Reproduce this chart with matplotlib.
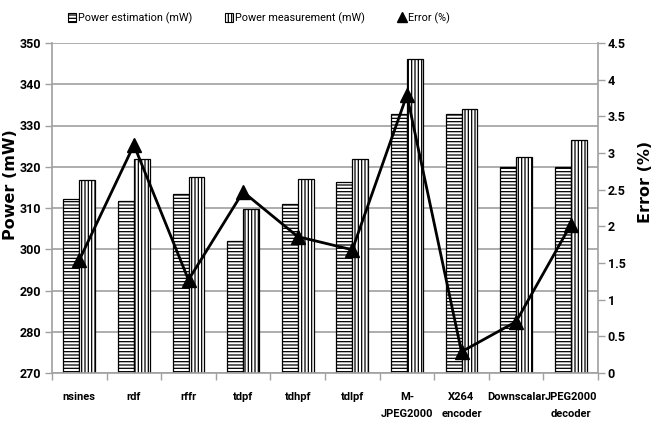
import matplotlib
matplotlib.use("Agg")
import matplotlib.pyplot as plt
import numpy as np
from matplotlib.lines import Line2D
from matplotlib.patches import Patch

categories = ["nsines", "rdf", "rffr", "tdpf", "tdhpf", "tdlpf",
              "M-\nJPEG2000", "X264\nencoder", "Downscalar", "JPEG2000\ndecoder"]
power_est = [312.1, 311.7, 313.3, 302.0, 311.0, 316.4, 332.8, 332.8, 320.0, 320.0]
power_meas = [316.9, 321.8, 317.6, 309.7, 317.0, 321.8, 346.0, 333.9, 322.3, 326.6]
error_pct = [1.54, 3.11, 1.27, 2.47, 1.86, 1.68, 3.79, 0.29, 0.70, 2.02]

left_ticks = [270, 280, 290, 300, 310, 320, 330, 340, 350]
right_ticks = [0, 0.5, 1, 1.5, 2, 2.5, 3, 3.5, 4, 4.5]
right_labels = ["0", "0.5", "1", "1.5", "2", "2.5", "3", "3.5", "4", "4.5"]

FONT = ["Roboto", "DejaVu Sans"]
plt.rcParams['font.family'] = FONT
plt.rcParams['hatch.linewidth'] = 0.9
GRAY = "#a0a0a0"

fig = plt.figure(figsize=(6.6, 4.33), dpi=100)
ax = fig.add_axes([52/660, 1-373/433, (598-52)/660, (373-43)/433])
x = np.arange(len(categories))
w = 0.29
ax.bar(x - 0.145, np.array(power_est) - 270, w, bottom=270, color="white",
       edgecolor="black", hatch="-----", linewidth=0.9, zorder=2)
ax.bar(x + 0.145, np.array(power_meas) - 270, w, bottom=270, color="white",
       edgecolor="black", hatch="|||||", linewidth=0.9, zorder=2)
ax.set_ylim(270, 350)
ax.set_xlim(-0.5, len(categories) - 0.5)
ax.set_yticks(left_ticks)
ax.set_yticklabels([str(t) for t in left_ticks], fontsize=9, fontweight="bold")
ax.yaxis.grid(True, color=GRAY, linewidth=1.2, zorder=0)
ax.set_axisbelow(True)
ax.set_xticks(x)
ax.set_xticklabels(categories, fontsize=8, fontweight="bold", linespacing=1.8)
ax.set_xticks(np.arange(len(categories) + 1) - 0.5, minor=True)
ax.tick_params(axis="x", which="major", length=0, pad=14)
ax.tick_params(axis="x", which="minor", length=5, color=GRAY, width=1)
ax.tick_params(axis="y", length=5, color=GRAY, width=1, pad=3)
for s in ["left", "bottom", "right"]:
    ax.spines[s].set_color(GRAY)
    ax.spines[s].set_linewidth(1.2)
ax.spines["top"].set_visible(False)
ax.set_ylabel("Power (mW)", fontsize=11.5, fontweight="bold", family="DejaVu Sans")
ax.yaxis.set_label_coords(-0.062, 0.57)

ax2 = ax.twinx()
ax2.plot(x, error_pct, color="black", linewidth=2, marker="^", markersize=10, zorder=5)
ax2.set_ylim(0, 4.5)
ax2.set_yticks(right_ticks)
ax2.set_yticklabels(right_labels, fontsize=9, fontweight="bold")
ax2.tick_params(axis="y", length=5, color=GRAY, width=1, pad=2)
for s in ["left", "bottom", "right", "top"]:
    ax2.spines[s].set_visible(False)
ax2.set_ylabel("Error (%)", fontsize=11.5, fontweight="bold", family="DejaVu Sans")
ax2.yaxis.set_label_coords(1.073, 0.58)

handles = [Patch(facecolor="white", edgecolor="black", hatch="-----", linewidth=0.8),
           Patch(facecolor="white", edgecolor="black", hatch="|||||", linewidth=0.8),
           Line2D([], [], color="black", marker="^", markersize=7, linestyle="none")]
fig.legend(handles, ["Power estimation (mW)", "Power measurement (mW)", "Error (%)"],
           loc="center", bbox_to_anchor=(259/660, 0.958), ncol=3, frameon=False,
           prop={"family": FONT, "size": 7.8},
           handlelength=0.75, handleheight=0.95, handletextpad=0.2, columnspacing=3.0)

fig.savefig("out.png", dpi=100)
